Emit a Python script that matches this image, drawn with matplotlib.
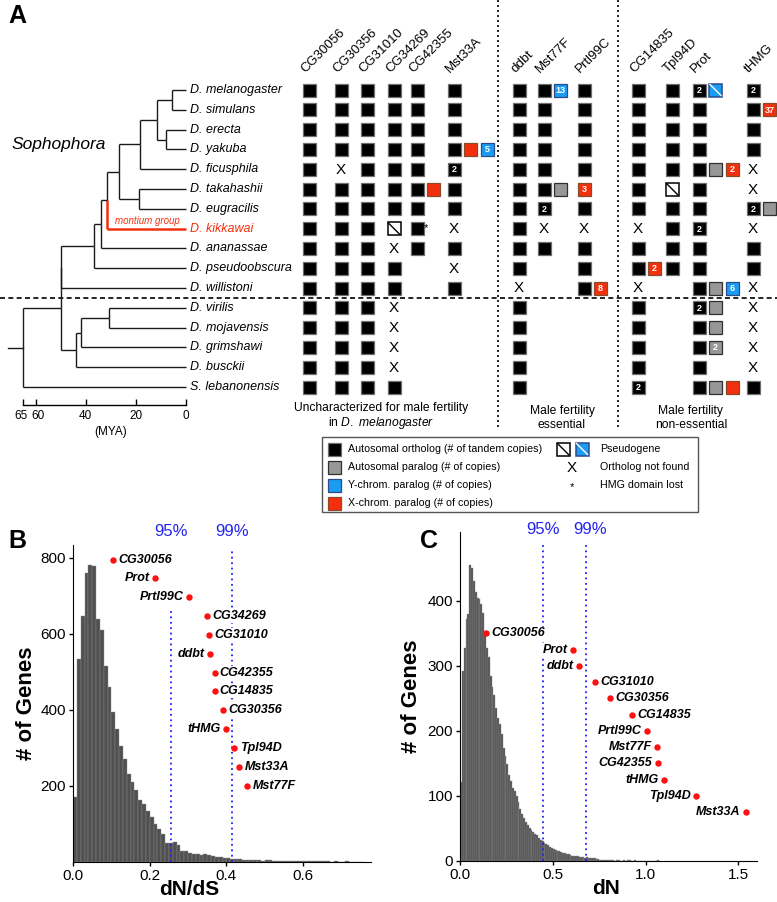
import matplotlib
matplotlib.use("Agg")
import matplotlib.pyplot as plt
from matplotlib.patches import Rectangle
import numpy as np

plt.rcParams['font.family'] = ['Liberation Sans', 'DejaVu Sans']
plt.rcParams['mathtext.fontset'] = 'custom'
plt.rcParams['mathtext.rm'] = 'Liberation Sans'
plt.rcParams['mathtext.it'] = 'Liberation Sans:italic'

### Data
species = ["D. melanogaster", "D. simulans", "D. erecta", "D. yakuba", "D. ficusphila",
           "D. takahashii", "D. eugracilis", "D. kikkawai", "D. ananassae", "D. pseudoobscura",
           "D. willistoni", "D. virilis", "D. mojavensis", "D. grimshawi", "D. busckii",
           "S. lebanonensis"]
genes = ["CG30056", "CG30356", "CG31010", "CG34269", "CG42355", "Mst33A",
         "ddbt", "Mst77F", "Prtl99C", "CG14835", "Tpl94D", "Prot", "tHMG"]

# tree: (age in MYA, child, child); leaves are species indices
tree = (65, (50, (49.8, (36.7, (34, (31.5, (26.7, (18.3, (11.5, (5.6, 0, 1), (8, 2, 3)), 4),
                                                (18.7, 5, 6)), 7), 8), 9), 10),
             (44, (42, (30.7, 11, 12), 13), 14)), 15)
mya_ticks = [65, 60, 40, 20, 0]

# cell codes per gene (one per species): A=autosomal ortholog, G=autosomal paralog,
# B=Y-chrom paralog, R=X-chrom paralog, P=pseudogene, Q=Y pseudogene, X=not found, *=HMG lost
cells = {
    "CG30056": ["A"] * 16,
    "CG30356": ["A", "A", "A", "A", "X", "A", "A", "A", "A", "A", "A", "A", "A", "A", "A", "A"],
    "CG31010": ["A"] * 16,
    "CG34269": ["A", "A", "A", "A", "A", "A", "A", "P", "X", "A", "A", "X", "X", "X", "X", "A"],
    "CG42355": ["A", "A", "A", "A", "A", "A R", "A", "A *", "A", "", "", "", "", "", "", ""],
    "Mst33A":  ["A", "A", "A", "A R B5", "A2", "A", "A", "X", "A", "X", "A", "", "", "", "", ""],
    "ddbt":    ["A", "A", "A", "A", "A", "A", "A", "A", "A", "A", "X", "A", "A", "A", "A", "A"],
    "Mst77F":  ["A B13", "A", "A", "A", "A", "A G", "A2", "X", "A", "", "", "", "", "", "", ""],
    "Prtl99C": ["A", "A", "A", "A", "A", "R3", "A", "X", "A", "A", "A R8", "", "", "", "", ""],
    "CG14835": ["A", "A", "A", "A", "A", "A", "A", "X", "A", "A R2", "X", "A", "A", "A", "A", "A2"],
    "Tpl94D":  ["A", "A", "A", "A", "A", "P", "A", "A", "A", "A", "", "", "", "", "", ""],
    "Prot":    ["A2 Q", "A", "A", "A", "A G R2", "A", "A", "A2", "A", "A", "A G B6",
                "A2 G", "A G", "A G2", "A", "A G R"],
    "tHMG":    ["A2", "A R37", "A", "A", "X", "X", "A2 G", "X", "A", "A", "X",
                "X", "X", "X", "X", "A"],
}
groups = ["Uncharacterized for male fertility", "Male fertility\nessential",
          "Male fertility\nnon-essential"]
legend_left = ["Autosomal ortholog (# of tandem copies)", "Autosomal paralog (# of copies)",
               "Y-chrom. paralog (# of copies)", "X-chrom. paralog (# of copies)"]
legend_right = ["Pseudogene", "Ortholog not found", "HMG domain lost"]

# B: dN/dS histogram (bin width 0.01) and labelled genes
b_counts = [170, 535, 648, 760, 782, 778, 640, 610, 515, 460, 395, 350, 305, 270, 232, 210,
            190, 163, 152, 134, 118, 100, 86, 74, 50, 50, 52, 46, 30, 28, 24, 21, 20, 18, 20,
            18, 16, 14, 12, 10, 10, 9, 8, 7, 6, 5, 5, 4, 4, 3, 5, 4, 3, 3, 2, 3, 2, 3, 2, 2,
            3, 2, 2, 3, 2, 2, 2, 1, 2, 1, 1, 2, 1, 1, 1, 1]
b_genes = ["CG30056", "Prot", "Prtl99C", "CG34269", "CG31010", "ddbt", "CG42355",
           "CG14835", "CG30356", "tHMG", "Tpl94D", "Mst33A", "Mst77F"]
b_x = [0.105, 0.214, 0.303, 0.349, 0.355, 0.358, 0.369, 0.369, 0.391, 0.400, 0.421, 0.433, 0.454]
b_y = [795, 747, 697, 647, 597, 547, 497, 450, 400, 350, 300, 250, 200]
b_side = ["r", "l", "l", "r", "r", "l", "r", "r", "r", "l", "r", "r", "r"]
b_cut = [0.255, 0.415]

# C: dN histogram (bin width 0.01) and labelled genes
c_counts = [122, 292, 327, 372, 380, 456, 451, 430, 413, 405, 403, 395, 382, 354, 328, 313,
            285, 267, 256, 236, 220, 210, 195, 174, 162, 149, 133, 123, 113, 108, 100, 90, 80,
            72, 66, 60, 55, 50, 48, 45, 42, 40, 36, 33, 30, 28, 26, 24, 22, 20, 18, 17, 16, 15,
            14, 13, 12, 11, 10, 9, 8, 8, 7, 7, 6, 6, 6, 5, 6, 5, 5, 4, 4, 3, 3, 2, 2, 2, 1, 1,
            1, 1, 1, 0, 1, 1, 0, 0, 1, 0, 1, 1, 0, 0, 1, 0, 0, 0, 0, 0, 0, 0, 0, 0, 0, 0, 1]
c_genes = ["CG30056", "Prot", "ddbt", "CG31010", "CG30356", "CG14835", "Prtl99C",
           "Mst77F", "CG42355", "tHMG", "Tpl94D", "Mst33A"]
c_x = [0.14, 0.607, 0.64, 0.726, 0.81, 0.925, 1.005, 1.06, 1.065, 1.10, 1.27, 1.54]
c_y = [350, 325, 300, 275, 250, 225, 200, 175, 150, 125, 100, 75]
c_side = ["r", "l", "l", "r", "r", "r", "l", "l", "l", "l", "l", "l"]
c_cut = [0.446, 0.677]

### Layout (pixels)
W, H = 777, 902
row0, drow = 90, 19.8
gene_x = [309, 341, 367, 394, 417, 454, 519, 544, 584, 638, 672, 699, 753]
slot = 16.5
box = 13
red = '#f2300e'
blue_c = '#1a9cf2'
cols = {'A': ('black', '#6f6f6f'), 'G': ('#979797', '#303030'),
        'B': (blue_c, '#2b4c8c'), 'R': (red, '#8c4a2a')}

fig = plt.figure(figsize=(W / 100, H / 100), dpi=100)
ov = fig.add_axes([0, 0, 1, 1])
ov.set_xlim(0, W)
ov.set_ylim(H, 0)
ov.axis('off')


def row_y(r):
    return row0 + drow * r


def draw_box(cx, cy, code):
    kind, num = code[0], code[1:]
    x0, y0 = cx - box / 2, cy - box / 2
    if kind in cols:
        fc, ec = cols[kind]
        ov.add_patch(Rectangle((x0, y0), box, box, facecolor=fc, edgecolor=ec, lw=0.9))
        if num:
            ov.text(cx, cy + 0.5, num, color='white', fontsize=6.5, fontweight='bold',
                    ha='center', va='center')
    elif kind in 'PQ':
        fc, lc = ('white', 'black') if kind == 'P' else (blue_c, 'white')
        ec = 'black' if kind == 'P' else '#2b4c8c'
        ov.add_patch(Rectangle((x0, y0), box, box, facecolor=fc, edgecolor=ec, lw=1.1))
        ov.plot([x0 + 1, x0 + box - 1], [y0 + 1, y0 + box - 1], color=lc, lw=1.0)
    elif kind == 'X':
        ov.text(cx, cy + 0.5, 'X', fontsize=11, ha='center', va='center')


### Panel A matrix
for gi, g in enumerate(genes):
    ov.text(gene_x[gi] - 4, 73, g, rotation=45, rotation_mode='anchor',
            ha='left', va='baseline', fontsize=9.5)
    for r, code in enumerate(cells[g]):
        k = 0
        for tok in code.split():
            if tok == '*':
                ov.text(gene_x[gi] + (k - 1) * slot + 9, row_y(r) - 1, '*', fontsize=8,
                        ha='center', va='center')
                continue
            draw_box(gene_x[gi] + k * slot, row_y(r), tok)
            k += 1

# dashed / dotted separators
ov.plot([0, W], [row_y(10.5), row_y(10.5)], color='black', lw=1.2, ls=(0, (3, 2)))
for xs in [498, 618]:
    ov.plot([xs, xs], [0, 430], color='black', lw=1.2, ls=(0, (1.2, 1.8)))

ov.text(381, 408, groups[0], ha='center', va='center', fontsize=8.7)
ov.text(381, 423, r"in $\it{D.\ melanogaster}$", ha='center', va='center', fontsize=8.7)
ov.text(562, 418, groups[1], ha='center', va='center', fontsize=8.7, linespacing=1.2)
ov.text(691, 418, groups[2], ha='center', va='center', fontsize=8.7, linespacing=1.2)

# legend
ov.add_patch(Rectangle((322, 437), 376, 75, facecolor='white', edgecolor='#555555', lw=1))
leg_y = [449, 467, 485, 503]
for i, (lab, k) in enumerate(zip(legend_left, ['A', 'G', 'B', 'R'])):
    draw_box(334, leg_y[i], k)
    ov.text(348, leg_y[i], lab, fontsize=7.7, va='center')
draw_box(563, leg_y[0], 'P')
draw_box(582, leg_y[0], 'Q')
draw_box(572, leg_y[1], 'X')
ov.text(572, leg_y[2] + 2, '*', fontsize=8, ha='center', va='center')
for i, lab in enumerate(legend_right):
    ov.text(600, leg_y[i], lab, fontsize=7.7, va='center')

ov.text(17, 16, 'A', fontsize=18, fontweight='bold', ha='center', va='center')
ov.text(17, 541, 'B', fontsize=18, fontweight='bold', ha='center', va='center')
ov.text(429, 541, 'C', fontsize=18, fontweight='bold', ha='center', va='center')
ov.text(12, 145, 'Sophophora', fontsize=12.5, style='italic', va='center')
for x, y, t in zip([171, 232, 543, 590], [532, 532, 529, 529], ['95%', '99%', '95%', '99%']):
    ov.text(x, y, t, color='#2323f0', fontsize=12, ha='center', va='center')

### Panel A tree
tr = fig.add_axes([23 / W, 1 - 396.9 / H, 163 / W, (396.9 - 80.1) / H])
tr.set_xlim(65, 0)
tr.set_ylim(15.5, -0.5)
tr.patch.set_visible(False)


def draw_tree(node):
    if isinstance(node, int):
        return float(node), 0.0
    age, a, b = node
    ya, aa = draw_tree(a)
    yb, ab = draw_tree(b)
    y = (ya + yb) / 2
    for yc, ac, ch in ((ya, aa, a), (yb, ab, b)):
        kik = ch == 7
        c, lw = (red, 1.8) if kik else ('#1a1a1a', 1.0)
        tr.plot([age, ac], [yc, yc], color=c, lw=lw, solid_capstyle='butt', clip_on=False)
        tr.plot([age, age], [y, yc], color=c, lw=lw, solid_capstyle='butt', clip_on=False)
    return y, age


root_y, root_age = draw_tree(tree)
tr.plot([root_age, root_age + 6], [root_y, root_y], color='#1a1a1a', lw=1.0, clip_on=False)
for i, sp in enumerate(species):
    tr.text(-1.7, i, sp, fontsize=9, style='italic', va='center',
            color=red if i == 7 else 'black')
tr.text(15.5, 6.62, 'montium group', fontsize=7, style='italic', color=red,
        ha='center', va='center')

for s in ['top', 'left', 'right']:
    tr.spines[s].set_visible(False)
tr.spines['bottom'].set_position(('outward', 6))
tr.spines['bottom'].set_linewidth(1.0)
tr.set_yticks([])
tr.set_xticks(mya_ticks)
tr.set_xticklabels([])
tr.tick_params(axis='x', direction='in', length=4, width=1.0)
# tick labels nudged apart where 65 and 60 crowd each other
nudge = {65: 0.7, 60: -0.8}
for t in mya_ticks:
    tr.text(t + nudge.get(t, 0), 15.5 + 0.95, str(t), fontsize=8.5, ha='center', va='center',
            clip_on=False)
tr.text(30, 15.5 + 1.75, '(MYA)', fontsize=8.5, ha='center', va='center', clip_on=False)


### Panels B and C
def hist_panel(rect, counts, xlim, ylim, xticks, xlabs, yticks, gnames, gx, gy, side,
               cuts, cut_top, xlabel, lab_x, lab_pos):
    ax = fig.add_axes(rect)
    ax.patch.set_visible(False)
    edges = np.arange(len(counts)) * 0.01
    ax.bar(edges, counts, width=0.01, align='edge', color='#505050',
           edgecolor='#8c8c8c', linewidth=0.3)
    for c, t in zip(cuts, cut_top):
        ax.plot([c, c], [0, t], color='#1f1fff', lw=1.3, ls=(0, (1, 2)), zorder=3)
    ax.plot(gx, gy, 'o', color='#ff1010', ms=3.6, zorder=5, clip_on=False)
    for n, x, y, s in zip(gnames, gx, gy, side):
        off = 0.018 * xlim[1] if s == 'r' else -0.018 * xlim[1]
        ax.text(x + off, y, n, ha='left' if s == 'r' else 'right', va='center', fontsize=9,
                fontweight='bold', style='italic', zorder=4, clip_on=False,
                bbox=dict(facecolor='white', edgecolor='none', pad=0.6))
    ax.set_xlim(*xlim)
    ax.set_ylim(*ylim)
    ax.set_xticks(xticks)
    ax.set_xticklabels(xlabs)
    ax.set_yticks(yticks)
    for s in ['top', 'right']:
        ax.spines[s].set_visible(False)
    ax.tick_params(labelsize=11, length=3, width=1, pad=2)
    ax.set_ylabel('# of Genes', fontsize=16, fontweight='bold')
    ax.set_xlabel(xlabel, fontsize=15, fontweight='bold')
    ax.yaxis.set_label_coords(lab_x, 0.5)
    ax.xaxis.set_label_coords(*lab_pos)
    return ax


axB = hist_panel([73 / W, 1 - 862 / H, 298 / W, 317 / H], b_counts, (0, 0.777), (0, 834),
                 [0, 0.2, 0.4, 0.6], ['0.0', '0.2', '0.4', '0.6'], [200, 400, 600, 800],
                 b_genes, b_x, b_y, b_side, b_cut, [663, 826], 'dN/dS', -0.121, (0.39, -0.058))
axC = hist_panel([460 / W, 1 - 861 / H, 297 / W, 329 / H], c_counts, (0, 1.6), (0, 506),
                 [0, 0.5, 1.0, 1.5], ['0.0', '0.5', '1.0', '1.5'], [0, 100, 200, 300, 400],
                 c_genes, c_x, c_y, c_side, c_cut, [486, 486], 'dN', -0.128, (0.49, -0.054))

fig.savefig('out.png', dpi=100)
